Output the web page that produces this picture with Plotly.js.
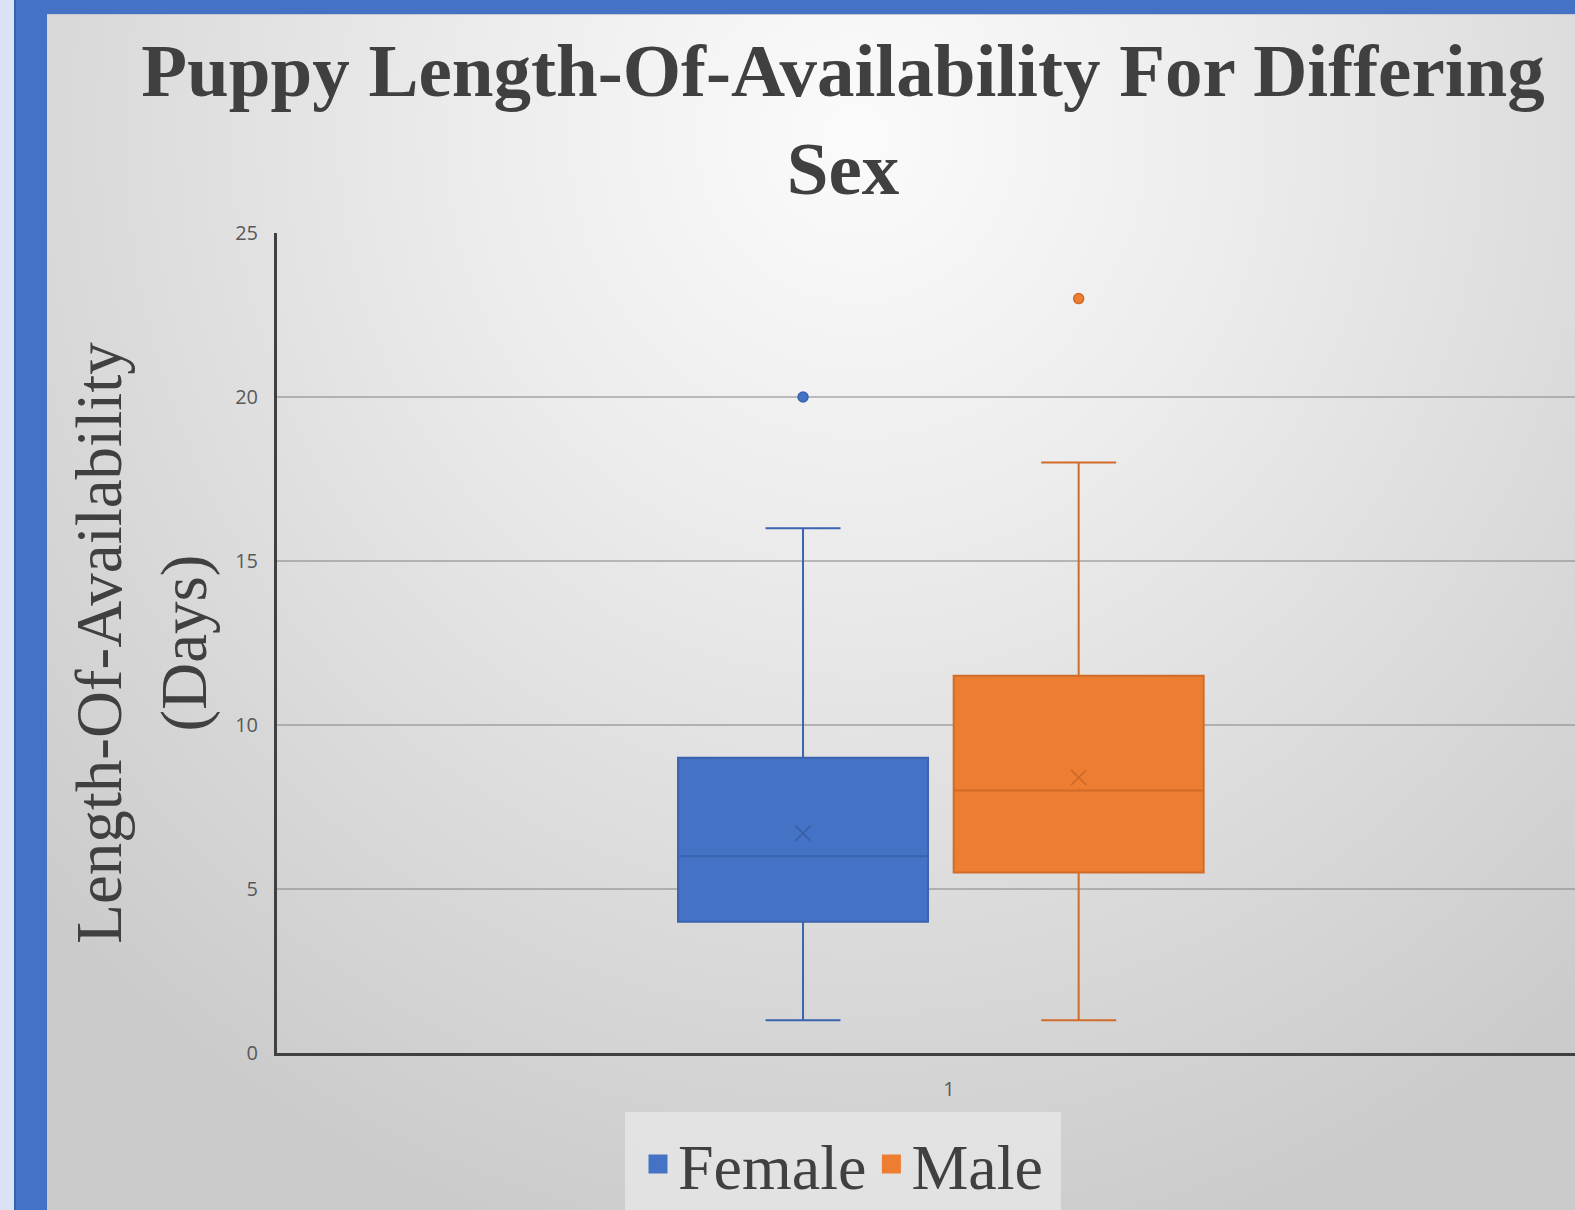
<!DOCTYPE html>
<html>
<head>
<meta charset="utf-8">
<script src="https://cdn.plot.ly/plotly-3.0.1.min.js"></script>
<style>
  html, body { margin: 0; padding: 0; width: 1575px; height: 1210px; overflow: hidden; background: #dae3f3; }
  #frame { position: absolute; left: 14px; top: 0; width: 1561px; height: 1210px; background: #4472c4; border-left: 2px solid #3561b0; box-sizing: border-box; }
  #bg { position: absolute; left: 47px; top: 14px; width: 1528px; height: 1196px;
        background: radial-gradient(ellipse 1100px 1150px at 810px 120px, #fbfbfb 0%, #ececec 35%, #dadada 70%, #cbcbcb 100%);
        border-top: 1px solid #c8c8c8; box-sizing: border-box; }
  #plot { position: absolute; left: 0; top: 0; width: 1575px; height: 1210px; }
</style>
</head>
<body>
<div id="frame"></div>
<div id="bg"></div>
<div id="plot"></div>
<script>
// ---- data ----
const categories = ['Female', 'Male'];
const lowerVals  = [1, 1];
const q1Vals     = [4, 5.5];
const medianVals = [6, 8];
const q3Vals     = [9, 11.5];
const upperVals  = [16, 18];
const meanVals   = [6.7, 8.4];
const outlierVals = [20, 23];
const tickLabels = ['1'];

// ---- layout constants ----
const boxPos = [0.8914, 1.0965];
const boxWidth = 0.186;
const fillColors = ['#4472C4', '#ED7D31'];
const lineColors = ['#3a63b0', '#d06c28'];
const meanColors = ['#3a5ea4', '#c9692a'];

// plot area in page pixels
const PL = 277, PR = 1575, PT = 233, PB = 1053;
const px2xp = px => (px - PL) / (PR - PL);
const py2yp = py => (PB - py) / (PB - PT);

const traces = [];
categories.forEach((name, i) => {
  traces.push({
    type: 'box', name: name, showlegend: false,
    x: [boxPos[i]],
    lowerfence: [lowerVals[i]], q1: [q1Vals[i]], median: [medianVals[i]],
    q3: [q3Vals[i]], upperfence: [upperVals[i]],
    width: boxWidth, whiskerwidth: 0.3,
    boxpoints: false,
    fillcolor: fillColors[i],
    line: { color: lineColors[i], width: 2 },
    hoverinfo: 'skip'
  });
  traces.push({
    type: 'scatter', mode: 'markers', showlegend: false,
    x: [boxPos[i]], y: [outlierVals[i]],
    marker: { symbol: 'circle', size: 10, color: fillColors[i], line: { color: lineColors[i], width: 1.5 } },
    hoverinfo: 'skip'
  });
  traces.push({
    type: 'scatter', mode: 'markers', showlegend: false,
    x: [boxPos[i]], y: [meanVals[i]],
    marker: { symbol: 'x-thin-open', size: 15, color: meanColors[i], line: { color: meanColors[i], width: 1.6 } },
    hoverinfo: 'skip'
  });
});
// legend entries
categories.forEach((name, i) => {
  traces.push({
    type: 'scatter', mode: 'markers', name: name, showlegend: true,
    x: [null], y: [null],
    marker: { symbol: 'square', size: 16, color: fillColors[i], line: { color: fillColors[i], width: 3 } }
  });
});

const layout = {
  width: 1575, height: 1210,
  paper_bgcolor: 'rgba(0,0,0,0)', plot_bgcolor: 'rgba(0,0,0,0)',
  margin: { l: PL, r: 1575 - PR, t: PT, b: 1210 - PB, pad: 0, autoexpand: false },
  title: {
    text: '<b>Puppy Length-Of-Availability For Differing<br>Sex</b>',
    font: { family: 'Liberation Serif', size: 75, color: '#404040' },
    x: 843 / 1575, xref: 'container', xanchor: 'center',
    y: 1 - 96 / 1210, yref: 'container', yanchor: 'top'
  },
  shapes: [{
    type: 'rect', xref: 'paper', yref: 'paper', layer: 'below',
    x0: px2xp(625), x1: px2xp(1061), y0: py2yp(1112), y1: py2yp(1230),
    fillcolor: 'rgba(232,232,232,0.75)', line: { width: 0 }
  }],
  showlegend: true,
  legend: {
    orientation: 'h', x: px2xp(843), xanchor: 'center',
    y: py2yp(1116), yanchor: 'top',
    bgcolor: 'rgba(0,0,0,0)', borderwidth: 0,
    font: { family: 'Liberation Serif', size: 64, color: '#404040' },
    itemsizing: 'trace'
  },
  xaxis: {
    range: [0.5, 1.4658], tickvals: [1], ticktext: tickLabels,
    showgrid: false, zeroline: false, showline: true,
    linecolor: '#404040', linewidth: 3, ticks: '',
    tickfont: { family: 'Open Sans', size: 20, color: '#595959' },
    ticklabelstandoff: 16, fixedrange: true
  },
  yaxis: {
    range: [0, 25], tickvals: [0, 5, 10, 15, 20, 25],
    showgrid: true, gridcolor: 'rgba(125,125,125,0.48)', gridwidth: 1.5,
    zeroline: false, showline: true, linecolor: '#404040', linewidth: 3, ticks: '',
    tickfont: { family: 'Open Sans', size: 20, color: '#595959' },
    ticklabelstandoff: 12, fixedrange: true,
    title: {
      text: 'Length-Of-Availability<br>(Days)',
      font: { family: 'Liberation Serif', size: 65, color: '#404040' },
      standoff: 8
    }
  }
};

Plotly.newPlot('plot', traces, layout, { staticPlot: true, displayModeBar: false });
</script>
</body>
</html>
